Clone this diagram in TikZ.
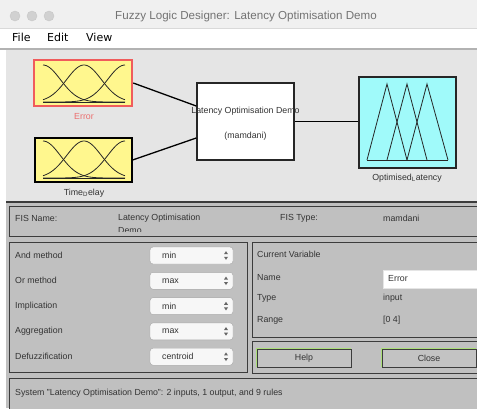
\documentclass[tikz,border=0pt]{standalone}
\usepackage{fontspec}
\setmainfont{Liberation Sans}
\newfontfamily\menufont{DejaVu Sans}
\newcommand\uifont{\fontsize{8.8}{10}\selectfont}
\definecolor{topgray}{RGB}{229,229,229}
\definecolor{lowgray}{RGB}{192,192,192}
\definecolor{mfyellow}{RGB}{255,247,142}
\definecolor{mfred}{RGB}{240,92,92}
\definecolor{mfcyan}{RGB}{160,250,250}
\definecolor{errtext}{RGB}{236,110,110}
\definecolor{btngreen}{RGB}{170,222,120}
\definecolor{paneldark}{RGB}{60,60,60}
\begin{document}
\begin{tikzpicture}[x=1pt,y=-1pt,
  lbl/.style={anchor=west,font=\uifont,text=black!80,inner sep=0pt},
  clbl/.style={font=\uifont,text=black!80,inner sep=0pt},
  panel/.style={draw=paneldark,line width=0.9pt,fill=lowgray},
  drop/.style={draw=black!35,fill=white!97!black,rounded corners=3pt,minimum width=83pt,minimum height=17pt,inner sep=0pt},
  btn/.style={draw=paneldark,line width=0.9pt,fill=lowgray!95!white,minimum width=94pt,minimum height=18pt,font=\uifont,text=black!80,inner sep=0pt},
  curve/.style={black!85,line width=0.8pt},
  wire/.style={black,line width=1.3pt}]
\useasboundingbox (0,0) rectangle (477,408);
% window chrome
\fill[white] (0,0) rectangle (477,408);
\fill[black!6] (0,0) rectangle (477,28);
\draw[black!15] (0,28) -- (477,28);
\foreach \cx/\nm in {15/l1,32/l2,49/l3}
  \node[circle,fill=black!18,draw=black!22,minimum size=10pt,inner sep=0pt] (\nm) at (\cx,16) {};
\node[font=\fontsize{11.6}{13}\selectfont,text=black!55] (title) at (246,16) {Fuzzy Logic Designer: Latency Optimisation Demo};
\node[anchor=west,font=\menufont\fontsize{11}{12}\selectfont,inner sep=0pt] (mfile) at (12,37.5) {File};
\node[anchor=west,font=\menufont\fontsize{11}{12}\selectfont,inner sep=0pt] (medit) at (47,37.5) {Edit};
\node[anchor=west,font=\menufont\fontsize{11}{12}\selectfont,inner sep=0pt] (mview) at (86,37.5) {View};
\draw[black!30,line width=2pt] (0,49) -- (477,49);
% upper diagram area
\fill[topgray] (6,50) rectangle (477,202);
\draw[paneldark,line width=1.3pt] (6,202) -- (477,202);
% input Error
\node[draw=mfred,line width=2.5pt,fill=mfyellow,minimum width=98pt,minimum height=46pt,inner sep=0pt] (err) at (83,83) {};
\foreach \c in {43,84,125}
  \draw[curve] plot[domain=43:125,samples=50] (\x,{102-37*exp(-((\x-\c)^2)/605)});
\draw[curve] (43,102) -- (125,102);
\node[font=\uifont,text=errtext] (errl) at (84,117) {Error};
% input Time delay
\node[draw=black,line width=1.2pt,fill=mfyellow,minimum width=97pt,minimum height=44pt,inner sep=0pt] (td) at (83.5,160) {};
\foreach \c in {43,84,125}
  \draw[curve] plot[domain=43:125,samples=50] (\x,{178-37*exp(-((\x-\c)^2)/605)});
\draw[curve] (43,178) -- (125,178);
\node[font=\uifont,text=black!80] (tdl) at (84,193) {Time\textsubscript{D}elay};
% system box
\node[draw=black!85,line width=1.5pt,fill=white,minimum width=97pt,minimum height=77pt,inner sep=0pt] (sys) at (245.5,121.5) {};
\node[clbl] (sysname) at (245.5,111) {Latency Optimisation Demo};
\node[clbl] (systype) at (245.5,136.5) {(mamdani)};
% output
\node[draw=black!85,line width=1.1pt,fill=mfcyan,minimum width=97pt,minimum height=91pt,inner sep=0pt] (out) at (407.5,122.5) {};
\draw[curve] (367,160) -- (387,84) -- (407,160);
\draw[curve] (387,160) -- (407,84) -- (427,160);
\draw[curve] (407,160) -- (427,84) -- (448,160);
\draw[curve] (367,160) -- (448,160);
\node[font=\uifont,text=black!80] (outl) at (407,178.5) {Optimised\textsubscript{L}atency};
% connectors
\draw[wire] (err.east) -- ([yshift=15.5pt]sys.west);
\draw[wire] (td.east) -- ([yshift=-16.5pt]sys.west);
\draw[wire] (sys.east) -- (sys.east -| out.west);
% lower area
\fill[lowgray] (6,203) rectangle (477,408);
\draw[panel] (9,206) rectangle (480,236.5);
\node[lbl] (fisn) at (15,218) {FIS Name:};
\begin{scope}
\clip (10,207) rectangle (470,231.5);
\node[lbl] (fisv1) at (118,218) {Latency Optimisation};
\node[lbl] (fisv2) at (118,230.5) {Demo};
\end{scope}
\node[lbl] (fist) at (280,218) {FIS Type:};
\node[lbl] (fistv) at (383,218) {mamdani};
% left panel
\draw[panel] (9,242) rectangle (247,372.5);
\foreach \i/\lab/\val/\yc in {1/And method/min/255.5,2/Or method/max/280.8,3/Implication/min/306.1,4/Aggregation/max/331.4,5/Defuzzification/centroid/356.7}{
  \node[lbl] (lab\i) at (15,\yc) {\lab};
  \node[drop] (dd\i) at (191.5,\yc) {};
  \node[lbl] (val\i) at (162,\yc) {\val};
  \fill[black!60] (224,\yc-1.3) -- (228,\yc-1.3) -- (226,\yc-4.3) -- cycle;
  \fill[black!60] (224,\yc+1.3) -- (228,\yc+1.3) -- (226,\yc+4.3) -- cycle;
}
% current variable panel
\draw[panel] (252,242) rectangle (480,337);
\node[lbl] (cv) at (257,254.5) {Current Variable};
\node[lbl] (nm) at (257,277.5) {Name};
\node[draw=black!10,fill=white,minimum width=96pt,minimum height=18pt,inner sep=0pt] (nmbox) at (431,279) {};
\node[lbl] (nmv) at (388,279) {Error};
\node[lbl] (ty) at (257,298.5) {Type};
\node[lbl] (tyv) at (383,298.5) {input};
\node[lbl] (rg) at (257,320) {Range};
\node[lbl] (rgv) at (383,320) {[0 4]};
% buttons panel
\draw[panel] (252,341) rectangle (480,373);
\node[btn] (help) at (304,358) {Help};
\draw[btngreen,line width=1pt] (help.south west) -- (help.north west) -- (help.north east);
\node[btn] (close) at (429,358) {Close};
\draw[btngreen,line width=1pt] (close.south west) -- (close.north west) -- (close.north east);
% status
\draw[panel] (9,378) rectangle (480,412);
\node[lbl] (status) at (15,393) {System "Latency Optimisation Demo": 2 inputs, 1 output, and 9 rules};
\end{tikzpicture}
\end{document}
